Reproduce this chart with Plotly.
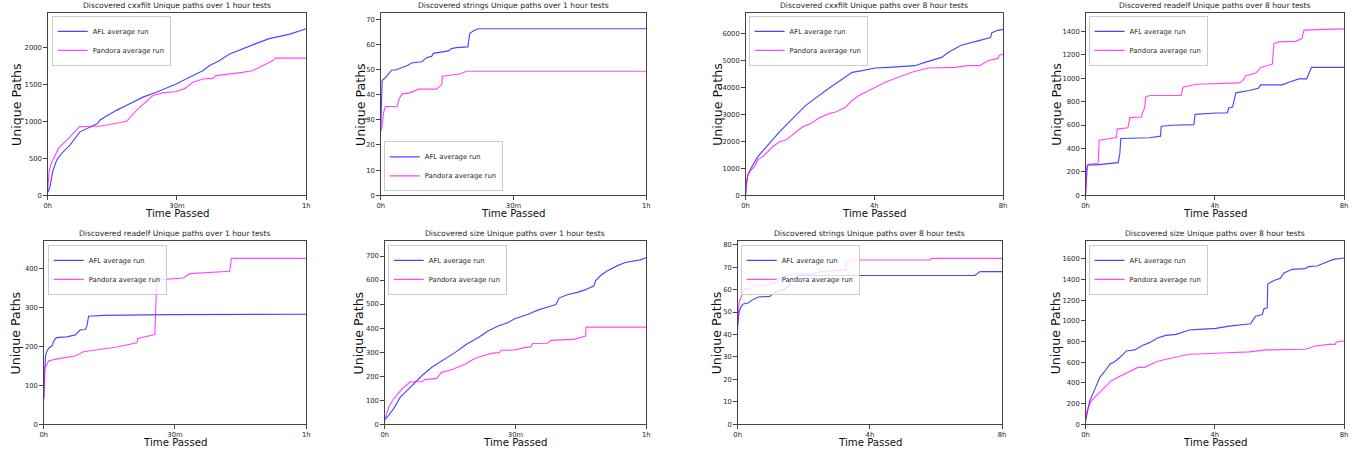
import plotly.graph_objects as go

# ---------------- data (t in minutes for 1h tests, hours for 8h tests) ----------------
cxxfilt_1h_afl_t = [0, 0.15, 0.54, 1.16, 2.08, 3.24, 5.16, 7.47, 11.56, 12.1, 13.25, 15.95, 19.03, 22.1, 25.2, 29.8, 32.9, 36.0, 37.5, 39.8, 42.1, 45.2, 48.3, 51.4, 53.7, 56.0, 60]
cxxfilt_1h_afl_y = [40, 54, 120, 322, 479, 568, 680, 859, 971, 1016, 1060, 1150, 1240, 1329, 1396, 1508, 1597, 1687, 1754, 1821, 1910, 1987, 2054, 2121, 2148, 2179, 2255]
cxxfilt_1h_pan_t = [0, 0.31, 0.69, 1.69, 2.47, 5.16, 7.32, 9.78, 12.1, 14.4, 18.3, 20.6, 24.4, 26.7, 29.8, 31.7, 33.7, 36.0, 38.3, 39.1, 42.9, 45.2, 47.5, 49.1, 52.2, 52.9, 60]
cxxfilt_1h_pan_y = [76, 322, 412, 546, 635, 792, 926, 935, 935, 958, 1002, 1150, 1351, 1387, 1405, 1441, 1530, 1575, 1584, 1620, 1642, 1664, 1687, 1732, 1821, 1857, 1857]

strings_1h_afl_t = [0, 0.15, 0.3, 0.9, 1.8, 2.5, 3.3, 4.4, 5.9, 7.0, 9.3, 10.4, 11.5, 11.9, 13.8, 15.3, 16.0, 17.1, 19.7, 20.1, 20.9, 22.0, 60]
strings_1h_afl_y = [25.9, 39.7, 45.6, 46.5, 48.6, 49.8, 49.8, 50.5, 51.5, 52.6, 53.1, 54.8, 55.2, 56.4, 56.8, 57.4, 58.3, 58.7, 59.0, 64.3, 65.3, 66.2, 66.2]
strings_1h_pan_t = [0, 0.3, 0.67, 1.05, 3.66, 4.19, 4.79, 6.28, 7.4, 8.5, 12.6, 13.8, 13.9, 16.0, 17.9, 19.4, 60]
strings_1h_pan_y = [25.2, 27.9, 33.1, 35.3, 35.3, 38.4, 40.3, 40.6, 41.3, 42.2, 42.2, 44.0, 47.3, 47.8, 48.2, 49.3, 49.3]

cxxfilt_8h_afl_t = [0, 0.02, 0.07, 0.17, 0.38, 0.64, 1.05, 1.56, 1.87, 2.49, 3.0, 3.31, 3.62, 4.03, 4.44, 5.26, 5.57, 6.09, 6.29, 6.5, 6.7, 7.22, 7.61, 7.65, 7.84, 8.0]
cxxfilt_8h_afl_y = [25, 393, 761, 1006, 1436, 1804, 2356, 2969, 3337, 3890, 4319, 4564, 4626, 4724, 4748, 4810, 4933, 5117, 5301, 5448, 5571, 5730, 5853, 6037, 6123, 6160]
cxxfilt_8h_pan_t = [0, 0.02, 0.07, 0.17, 0.28, 0.38, 0.59, 0.84, 1.05, 1.25, 1.51, 1.77, 2.03, 2.28, 2.59, 2.8, 3.11, 3.31, 3.52, 3.72, 4.03, 4.34, 4.75, 5.16, 5.68, 6.19, 6.5, 6.91, 7.27, 7.53, 7.84, 7.89, 8.0]
cxxfilt_8h_pan_y = [25, 393, 761, 945, 1067, 1313, 1497, 1804, 1988, 2049, 2294, 2540, 2663, 2871, 3031, 3092, 3276, 3521, 3706, 3828, 4012, 4196, 4380, 4564, 4724, 4748, 4748, 4810, 4810, 4994, 5080, 5202, 5239]

readelf_8h_afl_t = [0, 0.02, 0.05, 0.08, 0.34, 1.01, 1.06, 1.09, 1.37, 1.98, 2.32, 2.34, 2.7, 3.35, 3.39, 4.03, 4.39, 4.43, 4.55, 4.6, 4.65, 5.06, 5.35, 5.42, 6.09, 6.29, 6.6, 6.84, 6.91, 6.99, 8.0]
readelf_8h_afl_y = [6, 147, 246, 260, 260, 279, 358, 485, 485, 491, 505, 590, 598, 604, 691, 703, 703, 745, 754, 810, 875, 895, 914, 943, 943, 965, 994, 994, 1044, 1092, 1092]
readelf_8h_pan_t = [0, 0.02, 0.05, 0.08, 0.39, 0.42, 0.95, 0.98, 1.31, 1.37, 1.72, 1.77, 1.83, 1.86, 1.98, 2.96, 3.01, 3.42, 4.75, 4.86, 4.96, 5.27, 5.42, 5.78, 5.83, 5.99, 6.5, 6.7, 6.76, 7.42, 8.0]
readelf_8h_pan_y = [6, 203, 246, 265, 274, 471, 494, 565, 576, 663, 669, 717, 754, 838, 852, 852, 923, 948, 960, 979, 1022, 1044, 1092, 1120, 1296, 1310, 1315, 1338, 1411, 1417, 1422]

readelf_1h_afl_t = [0, 0.15, 0.38, 0.76, 1.14, 1.9, 2.28, 2.89, 5.3, 7.2, 8.35, 9.5, 9.87, 10.25, 13.7, 28.9, 60]
readelf_1h_afl_y = [65, 142, 175, 188, 195, 201, 214, 222, 224, 229, 242, 243, 252, 277, 279, 281, 282]
readelf_1h_pan_t = [0, 0.15, 0.6, 1.14, 3.8, 7.2, 9.1, 12.15, 16.7, 21.3, 21.5, 25.4, 25.8, 26.2, 31.9, 33.4, 42.5, 42.9, 60]
readelf_1h_pan_y = [65, 146, 150, 163, 169, 175, 186, 191, 198, 209, 220, 230, 358, 370, 375, 386, 392, 425, 425]

size_1h_afl_t = [0, 0.91, 2.05, 3.57, 5.09, 6.6, 8.5, 10.8, 13.1, 16.1, 18.75, 21.4, 23.7, 26.0, 28.2, 29.8, 32.8, 35.1, 37.4, 39.3, 40.0, 41.9, 44.2, 46.1, 48.0, 48.4, 49.5, 51.0, 53.3, 55.2, 58.6, 60]
size_1h_afl_y = [19, 37, 65, 113, 140, 168, 202, 237, 264, 298, 333, 360, 388, 409, 422, 439, 457, 475, 488, 498, 525, 539, 549, 560, 576, 598, 618, 638, 659, 673, 684, 693]
size_1h_pan_t = [0, 0.91, 2.05, 3.95, 5.85, 8.5, 9.26, 11.9, 13.06, 15.3, 18.4, 20.65, 22.9, 24.8, 26.3, 26.7, 29.8, 32.0, 33.6, 33.9, 37.4, 38.1, 43.4, 46.1, 46.2, 60]
size_1h_pan_y = [19, 72, 106, 147, 177, 177, 186, 191, 216, 227, 250, 274, 287, 296, 298, 308, 309, 319, 323, 336, 337, 349, 353, 367, 404, 404]

strings_8h_afl_t = [0, 0.04, 0.09, 0.17, 0.32, 0.42, 0.62, 0.97, 1.12, 1.37, 1.57, 1.6, 1.72, 1.87, 7.18, 7.33, 8.0]
strings_8h_afl_y = [43.7, 49.6, 52.1, 53.6, 54.0, 55.2, 56.7, 57.0, 58.8, 59.9, 61.7, 64.4, 65.1, 66.3, 66.3, 68.0, 68.0]
strings_8h_pan_t = [0, 0.03, 0.07, 0.12, 0.17, 0.27, 0.42, 0.47, 0.92, 1.02, 1.17, 1.32, 1.57, 1.77, 2.27, 2.52, 2.82, 3.27, 3.3, 3.42, 5.83, 5.86, 8.0]
strings_8h_pan_y = [42.3, 52.6, 55.5, 57.0, 59.9, 60.2, 60.7, 61.7, 61.7, 62.6, 63.2, 65.4, 66.6, 66.9, 66.9, 68.0, 68.3, 68.8, 71.7, 73.2, 73.2, 73.9, 73.9]

size_8h_afl_t = [0, 0.05, 0.13, 0.29, 0.44, 0.65, 0.75, 0.9, 1.06, 1.26, 1.52, 1.77, 1.98, 2.24, 2.49, 2.8, 3.0, 3.21, 3.52, 4.03, 4.44, 4.85, 5.11, 5.16, 5.26, 5.47, 5.52, 5.62, 5.64, 5.83, 6.03, 6.13, 6.39, 6.8, 6.9, 7.16, 7.42, 7.67, 8.0]
size_8h_afl_y = [38, 118, 230, 342, 454, 534, 581, 604, 645, 709, 719, 764, 789, 837, 859, 869, 891, 911, 917, 927, 949, 965, 971, 997, 1045, 1061, 1118, 1125, 1358, 1390, 1412, 1460, 1498, 1505, 1524, 1530, 1562, 1594, 1607]
size_8h_pan_t = [0, 0.05, 0.18, 0.39, 0.59, 0.8, 1.0, 1.21, 1.42, 1.62, 1.83, 1.98, 2.19, 2.49, 2.8, 3.21, 4.03, 5.06, 5.57, 6.08, 6.8, 7.11, 7.52, 7.72, 7.77, 8.0]
size_8h_pan_y = [38, 134, 230, 294, 358, 422, 454, 486, 518, 550, 550, 572, 604, 629, 652, 677, 687, 700, 719, 719, 725, 757, 773, 773, 796, 805]

titles = [
    "Discovered cxxfilt Unique paths over 1 hour tests",
    "Discovered strings Unique paths over 1 hour tests",
    "Discovered cxxfilt Unique paths over 8 hour tests",
    "Discovered readelf Unique paths over 8 hour tests",
    "Discovered readelf Unique paths over 1 hour tests",
    "Discovered size Unique paths over 1 hour tests",
    "Discovered strings Unique paths over 8 hour tests",
    "Discovered size Unique paths over 8 hour tests",
]
ticks_1h = [0, 30, 60]
ticklabels_1h = ["0h", "30m", "1h"]
ticks_8h = [0, 4, 8]
ticklabels_8h = ["0h", "4h", "8h"]
series_names = ["AFL average run", "Pandora average run"]

panels_data = [
    (cxxfilt_1h_afl_t, cxxfilt_1h_afl_y, cxxfilt_1h_pan_t, cxxfilt_1h_pan_y),
    (strings_1h_afl_t, strings_1h_afl_y, strings_1h_pan_t, strings_1h_pan_y),
    (cxxfilt_8h_afl_t, cxxfilt_8h_afl_y, cxxfilt_8h_pan_t, cxxfilt_8h_pan_y),
    (readelf_8h_afl_t, readelf_8h_afl_y, readelf_8h_pan_t, readelf_8h_pan_y),
    (readelf_1h_afl_t, readelf_1h_afl_y, readelf_1h_pan_t, readelf_1h_pan_y),
    (size_1h_afl_t, size_1h_afl_y, size_1h_pan_t, size_1h_pan_y),
    (strings_8h_afl_t, strings_8h_afl_y, strings_8h_pan_t, strings_8h_pan_y),
    (size_8h_afl_t, size_8h_afl_y, size_8h_pan_t, size_8h_pan_y),
]

# ---------------- layout (pixel geometry) ----------------
W, H = 1359, 459
# x pixel extents, y pixel extents, y range max, y dtick, 8h?, legend pos (px), y-title x px
geom = [
    ((44, 304), (13, 197), 2470, 500, False, (48, 16), 12),
    ((379, 646), (13, 197), 72.5, 10, False, (382, 193), 358),
    ((746, 1005), (13, 197), 6770, 1000, True, (749, 16), 717),
    ((1088, 1348), (13, 197), 1558, 200, True, (1091, 16), 1058),
    ((40, 304), (243, 428), 470, 100, False, (44, 247), 12),
    ((383, 646), (243, 428), 763, 100, False, (386, 247), 357),
    ((738, 1004), (243, 428), 81.7, 10, True, (741, 247), 717),
    ((1088, 1348), (243, 428), 1773, 200, True, (1091, 247), 1058),
]

FONT = "DejaVu Sans"
AFL_COLOR = "rgba(0,0,255,0.72)"
PAN_COLOR = "rgba(255,0,255,0.72)"
AXCOL = "#444444"
TXT = "#262626"

fig = go.Figure()
layout = dict(
    width=W, height=H,
    margin=dict(l=0, r=0, t=0, b=0),
    paper_bgcolor="white", plot_bgcolor="white",
    font=dict(family=FONT, color=TXT),
    showlegend=True,
)
annotations = []

for i, (data, g, title) in enumerate(zip(panels_data, geom, titles)):
    n = i + 1
    xs = "" if n == 1 else str(n)
    (x0, x1), (y0, y1), ymax, dtick, is8h, (lx, ly), ytx = g
    at, ay, pt, py = data
    legname = "legend" if n == 1 else f"legend{n}"
    fig.add_trace(go.Scatter(x=at, y=ay, mode="lines", name=series_names[0],
                             line=dict(color=AFL_COLOR, width=1.15),
                             xaxis="x" + xs, yaxis="y" + xs, legend=legname))
    fig.add_trace(go.Scatter(x=pt, y=py, mode="lines", name=series_names[1],
                             line=dict(color=PAN_COLOR, width=1.15),
                             xaxis="x" + xs, yaxis="y" + xs, legend=legname))
    xr = 8 if is8h else 60
    layout["xaxis" + xs] = dict(
        domain=[x0 / W, x1 / W], anchor="y" + xs, range=[0, xr],
        tickvals=ticks_8h if is8h else ticks_1h,
        ticktext=ticklabels_8h if is8h else ticklabels_1h,
        showline=True, mirror=True, linecolor=AXCOL, linewidth=1,
        ticks="outside", ticklen=3.5, tickcolor=AXCOL, tickwidth=1,
        showgrid=False, zeroline=False,
        tickfont=dict(size=6.8, family=FONT, color=TXT),
    )
    layout["yaxis" + xs] = dict(
        domain=[1 - y1 / H, 1 - y0 / H], anchor="x" + xs, range=[0, ymax],
        dtick=dtick, tick0=0,
        showline=True, mirror=True, linecolor=AXCOL, linewidth=1,
        ticks="outside", ticklen=3.5, tickcolor=AXCOL, tickwidth=1,
        showgrid=False, zeroline=False,
        tickfont=dict(size=6.8, family=FONT, color=TXT),
    )
    if n == 2:
        leg = dict(x=lx / W, y=1 - ly / H, xanchor="left", yanchor="bottom")
    else:
        leg = dict(x=lx / W, y=1 - ly / H, xanchor="left", yanchor="top")
    leg.update(bgcolor="rgba(255,255,255,0.8)", bordercolor="#cccccc", borderwidth=1,
               font=dict(size=6.8, family=FONT, color=TXT), itemwidth=30,
               tracegroupgap=0)
    layout[legname] = leg

    cx = (x0 + x1) / 2 / W
    annotations.append(dict(text=title, x=cx, y=1 - (y0 - 7) / H, xref="paper", yref="paper",
                            showarrow=False, xanchor="center", yanchor="middle",
                            font=dict(size=7.6, family=FONT, color=TXT)))
    annotations.append(dict(text="Time Passed", x=cx, y=1 - (y1 + 18) / H, xref="paper", yref="paper",
                            showarrow=False, xanchor="center", yanchor="middle",
                            font=dict(size=10.2, family=FONT, color="#111111")))
    annotations.append(dict(text="Unique Paths", x=ytx / W, y=1 - (y0 + y1) / 2 / H, xref="paper", yref="paper",
                            showarrow=False, xanchor="center", yanchor="middle", textangle=-90,
                            font=dict(size=12.6, family=FONT, color="#111111")))

layout["annotations"] = annotations
fig.update_layout(**layout)
fig.write_html("out.html",
               config={"displayModeBar": False},
               post_script="document.body.style.margin='0px';document.body.style.overflow='hidden';")
